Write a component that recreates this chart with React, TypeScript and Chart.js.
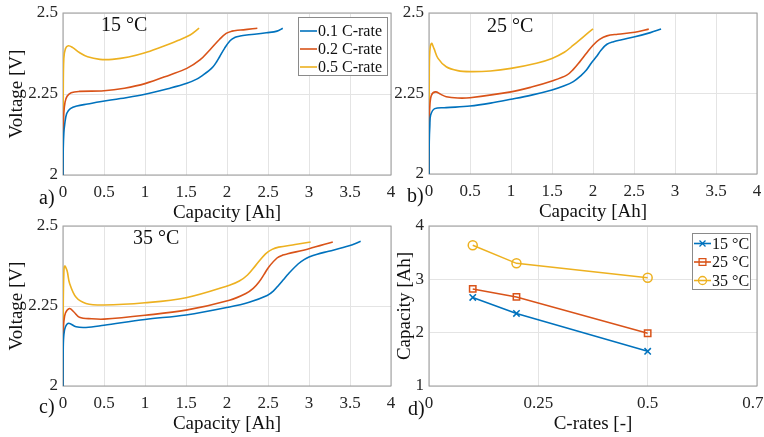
import React, { useEffect, useRef } from 'react';
import { Chart, registerables } from 'chart.js';
Chart.register(...registerables);

const W = 764;
const H = 437;
const BLUE = '#0072BD';
const ORANGE = '#D95319';
const YELLOW = '#EDB120';
const FONT = "'Liberation Serif', 'Times New Roman', serif";
const GRID = '#e4e4e4';
const BOX = '#9a9a9a';
const TXT = '#262626';

// ---- Panel a) 15 °C ----
const capA01 = [0, 0.003, 0.01, 0.02, 0.045, 0.09, 0.17, 0.3, 0.45, 0.7, 1.0, 1.305, 1.51, 1.63, 1.71, 1.78, 1.83, 1.87, 1.91, 1.97, 2.04, 2.1, 2.16, 2.24, 2.36, 2.48, 2.61, 2.68];
const voltA01 = [2.0, 2.08, 2.13, 2.155, 2.19, 2.205, 2.213, 2.219, 2.226, 2.236, 2.249, 2.268, 2.283, 2.296, 2.309, 2.322, 2.334, 2.348, 2.365, 2.391, 2.415, 2.425, 2.429, 2.432, 2.435, 2.439, 2.444, 2.453];
const capA02 = [0, 0.003, 0.01, 0.025, 0.05, 0.1, 0.2, 0.5, 0.75, 1.0, 1.305, 1.51, 1.67, 1.79, 1.91, 1.99, 2.06, 2.13, 2.2, 2.37];
const voltA02 = [2.0, 2.12, 2.19, 2.225, 2.243, 2.254, 2.258, 2.26, 2.268, 2.282, 2.309, 2.329, 2.355, 2.386, 2.419, 2.437, 2.444, 2.447, 2.448, 2.453];
const capA05 = [0, 0.003, 0.01, 0.03, 0.065, 0.12, 0.2, 0.3, 0.45, 0.6, 0.8, 1.0, 1.2, 1.305, 1.4, 1.55, 1.66];
const voltA05 = [2.0, 2.25, 2.36, 2.39, 2.399, 2.393, 2.378, 2.365, 2.357, 2.357, 2.364, 2.377, 2.395, 2.405, 2.415, 2.432, 2.453];

// ---- Panel b) 25 °C ----
const capB01 = [0, 0.003, 0.01, 0.02, 0.07, 0.21, 0.5, 0.75, 1.0, 1.25, 1.5, 1.65, 1.76, 1.85, 1.92, 1.98, 2.04, 2.1, 2.17, 2.25, 2.35, 2.51, 2.7, 2.83];
const voltB01 = [2.0, 2.1, 2.15, 2.183, 2.203, 2.206, 2.211, 2.22, 2.232, 2.245, 2.261, 2.274, 2.287, 2.305, 2.323, 2.345, 2.364, 2.385, 2.403, 2.411, 2.417, 2.426, 2.439, 2.45];
const capB02 = [0, 0.003, 0.01, 0.03, 0.08, 0.14, 0.21, 0.35, 0.5, 1.0, 1.25, 1.5, 1.68, 1.76, 1.84, 1.92, 2.0, 2.08, 2.17, 2.3, 2.51, 2.68];
const voltB02 = [2.0, 2.15, 2.21, 2.245, 2.255, 2.248, 2.24, 2.236, 2.237, 2.255, 2.27, 2.289, 2.307, 2.325, 2.349, 2.375, 2.4, 2.418, 2.429, 2.434, 2.44, 2.45];
const capB05 = [0, 0.003, 0.01, 0.03, 0.06, 0.11, 0.21, 0.35, 0.5, 0.75, 1.0, 1.31, 1.5, 1.65, 1.76, 1.9, 2.0];
const voltB05 = [2.0, 2.3, 2.38, 2.406, 2.39, 2.359, 2.333, 2.321, 2.318, 2.32, 2.328, 2.344, 2.359, 2.378, 2.4, 2.43, 2.451];

// ---- Panel c) 35 °C ----
const capC01 = [0, 0.003, 0.01, 0.03, 0.07, 0.16, 0.28, 0.5, 1.0, 1.5, 2.03, 2.27, 2.49, 2.57, 2.63, 2.69, 2.75, 2.87, 2.94, 3.0, 3.1, 3.24, 3.49, 3.63];
const voltC01 = [2.0, 2.12, 2.16, 2.185, 2.196, 2.185, 2.183, 2.19, 2.208, 2.222, 2.247, 2.262, 2.283, 2.298, 2.315, 2.333, 2.351, 2.382, 2.395, 2.403, 2.412, 2.421, 2.438, 2.452];
const capC02 = [0, 0.003, 0.01, 0.03, 0.08, 0.13, 0.2, 0.35, 0.5, 1.0, 1.5, 2.03, 2.23, 2.32, 2.39, 2.45, 2.51, 2.61, 2.68, 2.74, 3.0, 3.29];
const voltC02 = [2.0, 2.15, 2.2, 2.228, 2.242, 2.232, 2.215, 2.21, 2.209, 2.221, 2.237, 2.268, 2.289, 2.305, 2.325, 2.348, 2.372, 2.4, 2.409, 2.413, 2.429, 2.45];
const capC05 = [0, 0.003, 0.01, 0.02, 0.05, 0.08, 0.16, 0.28, 0.5, 1.0, 1.5, 2.03, 2.15, 2.25, 2.35, 2.47, 2.55, 2.63, 2.83, 3.02];
const voltC05 = [2.0, 2.25, 2.35, 2.375, 2.36, 2.321, 2.277, 2.258, 2.253, 2.26, 2.276, 2.315, 2.328, 2.347, 2.377, 2.413, 2.427, 2.434, 2.442, 2.45];

// ---- Panel d) capacity vs C-rate ----
const cRates = [0.1, 0.2, 0.5];
const cap15 = [2.66, 2.36, 1.65];
const cap25 = [2.82, 2.67, 1.99];
const cap35 = [3.64, 3.30, 3.03];

// ---- Ticks / labels ----
const capTicks = [0, 0.5, 1, 1.5, 2, 2.5, 3, 3.5, 4];
const capTickLabels = ['0', '0.5', '1', '1.5', '2', '2.5', '3', '3.5', '4'];
const voltTicks = [2, 2.25, 2.5];
const voltTickLabels = ['2', '2.25', '2.5'];
const rateTicks = [0, 0.25, 0.5, 0.75];
const rateTickLabels = ['0', '0.25', '0.5', '0.75'];
const capAhTicks = [1, 2, 3, 4];
const capAhTickLabels = ['1', '2', '3', '4'];
const rateLabels = ['0.1 C-rate', '0.2 C-rate', '0.5 C-rate'];
const tempLabels = ['15 °C', '25 °C', '35 °C'];

const zip = (xs: number[], ys: number[]) => xs.map((x, i) => ({ x, y: ys[i] }));

function curve(label: string, xs: number[], ys: number[], color: string) {
  return {
    label,
    data: zip(xs, ys),
    showLine: true,
    borderColor: color,
    backgroundColor: color,
    borderWidth: 1.6,
    pointRadius: 0,
    tension: 0.35,
  };
}

function marked(label: string, xs: number[], ys: number[], color: string, style: string) {
  return {
    label,
    data: zip(xs, ys),
    showLine: true,
    borderColor: color,
    backgroundColor: 'rgba(0,0,0,0)',
    borderWidth: 1.5,
    pointStyle: style,
    pointRadius: 4.5,
    pointBorderWidth: 1.5,
    pointBorderColor: color,
    pointBackgroundColor: 'rgba(0,0,0,0)',
    tension: 0,
  };
}

type Legend = { x: number; y: number; w: number; h: number; row0: number; rowGap: number; markers: boolean };
type PanelSpec = {
  l: number; t: number; r: number; b: number;
  yW: number; yTitlePad: number;
  xTitle: string; yTitle?: string;
  xMin: number; xMax: number; xTicks: number[]; xLabels: string[];
  yMin: number; yMax: number; yTicks: number[]; yLabels: string[];
  datasets: any[];
  tag: string; tagX: number; tagY: number;
  note?: string; noteX?: number; noteY?: number;
  legend?: Legend;
};

function drawMarker(ctx: CanvasRenderingContext2D, style: string, x: number, y: number, r: number) {
  ctx.beginPath();
  if (style === 'circle') {
    ctx.arc(x, y, r, 0, Math.PI * 2);
  } else if (style === 'rect') {
    const s = r * 0.85;
    ctx.rect(x - s, y - s, 2 * s, 2 * s);
  } else {
    const s = r * 0.75;
    ctx.moveTo(x - s, y - s); ctx.lineTo(x + s, y + s);
    ctx.moveTo(x - s, y + s); ctx.lineTo(x + s, y - s);
  }
  ctx.stroke();
}

function makePlugin(p: PanelSpec) {
  return {
    id: 'panelDeco',
    beforeDatasetsDraw(chart: any) {
      const { ctx, chartArea } = chart;
      ctx.save();
      ctx.strokeStyle = BOX;
      ctx.lineWidth = 1;
      ctx.strokeRect(chartArea.left, chartArea.top, chartArea.right - chartArea.left, chartArea.bottom - chartArea.top);
      ctx.restore();
    },
    afterDraw(chart: any) {
      const { ctx } = chart;
      ctx.save();
      ctx.fillStyle = '#111';
      ctx.font = `20px ${FONT}`;
      ctx.textAlign = 'left';
      ctx.textBaseline = 'middle';
      ctx.fillText(p.tag, p.tagX, p.tagY);
      if (p.note) {
        ctx.textBaseline = 'alphabetic';
        ctx.fillText(p.note, p.noteX!, p.noteY!);
      }
      if (p.legend) {
        const lg = p.legend;
        ctx.fillStyle = '#fff';
        ctx.fillRect(lg.x, lg.y, lg.w, lg.h);
        ctx.strokeStyle = '#8a8a8a';
        ctx.lineWidth = 1;
        ctx.strokeRect(lg.x + 0.5, lg.y + 0.5, lg.w, lg.h);
        ctx.font = `16px ${FONT}`;
        ctx.textBaseline = 'middle';
        chart.data.datasets.forEach((ds: any, i: number) => {
          const yy = lg.row0 + i * lg.rowGap;
          const x0 = lg.x + 2;
          const x1 = x0 + 17;
          ctx.strokeStyle = ds.borderColor;
          ctx.lineWidth = 1.6;
          ctx.beginPath();
          ctx.moveTo(x0, yy);
          ctx.lineTo(x1, yy);
          ctx.stroke();
          if (lg.markers) {
            ctx.lineWidth = 1.3;
            drawMarker(ctx, ds.pointStyle, (x0 + x1) / 2, yy, 4);
          }
          ctx.fillStyle = '#111';
          ctx.fillText(ds.label, x1 + 1, yy + 1);
        });
      }
      ctx.restore();
    },
  };
}

function makeConfig(p: PanelSpec): any {
  const xH = 50;
  return {
    type: 'scatter',
    data: { datasets: p.datasets },
    options: {
      responsive: false,
      animation: false,
      events: [],
      layout: { padding: { left: p.l - p.yW, top: p.t, right: W - p.r, bottom: H - p.b - xH } },
      plugins: { legend: { display: false }, tooltip: { enabled: false } },
      scales: {
        x: {
          type: 'linear',
          min: p.xMin,
          max: p.xMax,
          afterBuildTicks: (s: any) => { s.ticks = p.xTicks.map((v) => ({ value: v })); },
          afterFit: (s: any) => { s.height = xH; s.paddingLeft = 0; s.paddingRight = 0; },
          grid: { color: GRID, lineWidth: 1, drawTicks: false },
          border: { display: false },
          ticks: {
            autoSkip: false, maxRotation: 0, padding: 7, color: TXT,
            font: { family: FONT, size: 17 },
            callback: (_v: any, i: number) => p.xLabels[i],
          },
          title: { display: true, text: p.xTitle, color: '#111', font: { family: FONT, size: 19 }, padding: { top: 0, bottom: 1 } },
        },
        y: {
          type: 'linear',
          min: p.yMin,
          max: p.yMax,
          afterBuildTicks: (s: any) => { s.ticks = p.yTicks.map((v) => ({ value: v })); },
          afterFit: (s: any) => { s.width = p.yW; s.paddingTop = 0; s.paddingBottom = 0; },
          grid: { color: GRID, lineWidth: 1, drawTicks: false },
          border: { display: false },
          ticks: {
            autoSkip: false, padding: 5, color: TXT,
            font: { family: FONT, size: 17 },
            callback: (_v: any, i: number) => p.yLabels[i],
          },
          title: {
            display: !!p.yTitle, text: p.yTitle || '', color: '#111',
            font: { family: FONT, size: 19 }, padding: { top: p.yTitlePad, bottom: 0 },
          },
        },
      },
    },
    plugins: [makePlugin(p)],
  };
}

const capAxis = { xMin: 0, xMax: 4, xTicks: capTicks, xLabels: capTickLabels, yMin: 2, yMax: 2.5, yTicks: voltTicks, yLabels: voltTickLabels };

const panels: PanelSpec[] = [
  {
    l: 63, t: 13, r: 391, b: 175, yW: 63, yTitlePad: 6,
    xTitle: 'Capacity [Ah]', yTitle: 'Voltage [V]', ...capAxis,
    datasets: [
      curve(rateLabels[0], capA01, voltA01, BLUE),
      curve(rateLabels[1], capA02, voltA02, ORANGE),
      curve(rateLabels[2], capA05, voltA05, YELLOW),
    ],
    tag: 'a)', tagX: 39, tagY: 199,
    note: '15 °C', noteX: 101, noteY: 31,
    legend: { x: 298, y: 17, w: 89, h: 58, row0: 31, rowGap: 18, markers: false },
  },
  {
    l: 429, t: 13, r: 757, b: 174, yW: 50, yTitlePad: 0,
    xTitle: 'Capacity [Ah]', ...capAxis,
    datasets: [
      curve(rateLabels[0], capB01, voltB01, BLUE),
      curve(rateLabels[1], capB02, voltB02, ORANGE),
      curve(rateLabels[2], capB05, voltB05, YELLOW),
    ],
    tag: 'b)', tagX: 407, tagY: 197,
    note: '25 °C', noteX: 487, noteY: 32,
  },
  {
    l: 63, t: 226, r: 391, b: 386, yW: 63, yTitlePad: 6,
    xTitle: 'Capacity [Ah]', yTitle: 'Voltage [V]', ...capAxis,
    datasets: [
      curve(rateLabels[0], capC01, voltC01, BLUE),
      curve(rateLabels[1], capC02, voltC02, ORANGE),
      curve(rateLabels[2], capC05, voltC05, YELLOW),
    ],
    tag: 'c)', tagX: 39, tagY: 408,
    note: '35 °C', noteX: 133, noteY: 244,
  },
  {
    l: 429, t: 226, r: 757, b: 386, yW: 40, yTitlePad: 5,
    xTitle: 'C-rates [-]', yTitle: 'Capacity [Ah]',
    xMin: 0, xMax: 0.75, xTicks: rateTicks, xLabels: rateTickLabels,
    yMin: 1, yMax: 4, yTicks: capAhTicks, yLabels: capAhTickLabels,
    datasets: [
      marked(tempLabels[0], cRates, cap15, BLUE, 'crossRot'),
      marked(tempLabels[1], cRates, cap25, ORANGE, 'rect'),
      marked(tempLabels[2], cRates, cap35, YELLOW, 'circle'),
    ],
    tag: 'd)', tagX: 408, tagY: 410,
    legend: { x: 692, y: 233, w: 58, h: 56, row0: 243.5, rowGap: 18.5, markers: true },
  },
];

function Panel({ spec }: { spec: PanelSpec }) {
  const ref = useRef<HTMLCanvasElement>(null);
  useEffect(() => {
    if (!ref.current) return;
    const chart = new Chart(ref.current, makeConfig(spec));
    return () => chart.destroy();
  }, [spec]);
  return (
    <canvas
      ref={ref}
      width={W}
      height={H}
      style={{ position: 'absolute', left: 0, top: 0, width: W, height: H }}
    />
  );
}

export default function App() {
  return (
    <div style={{ position: 'absolute', left: 0, top: 0, width: W, height: H, background: '#fff', overflow: 'hidden' }}>
      {panels.map((p, i) => (
        <Panel key={i} spec={p} />
      ))}
    </div>
  );
}
